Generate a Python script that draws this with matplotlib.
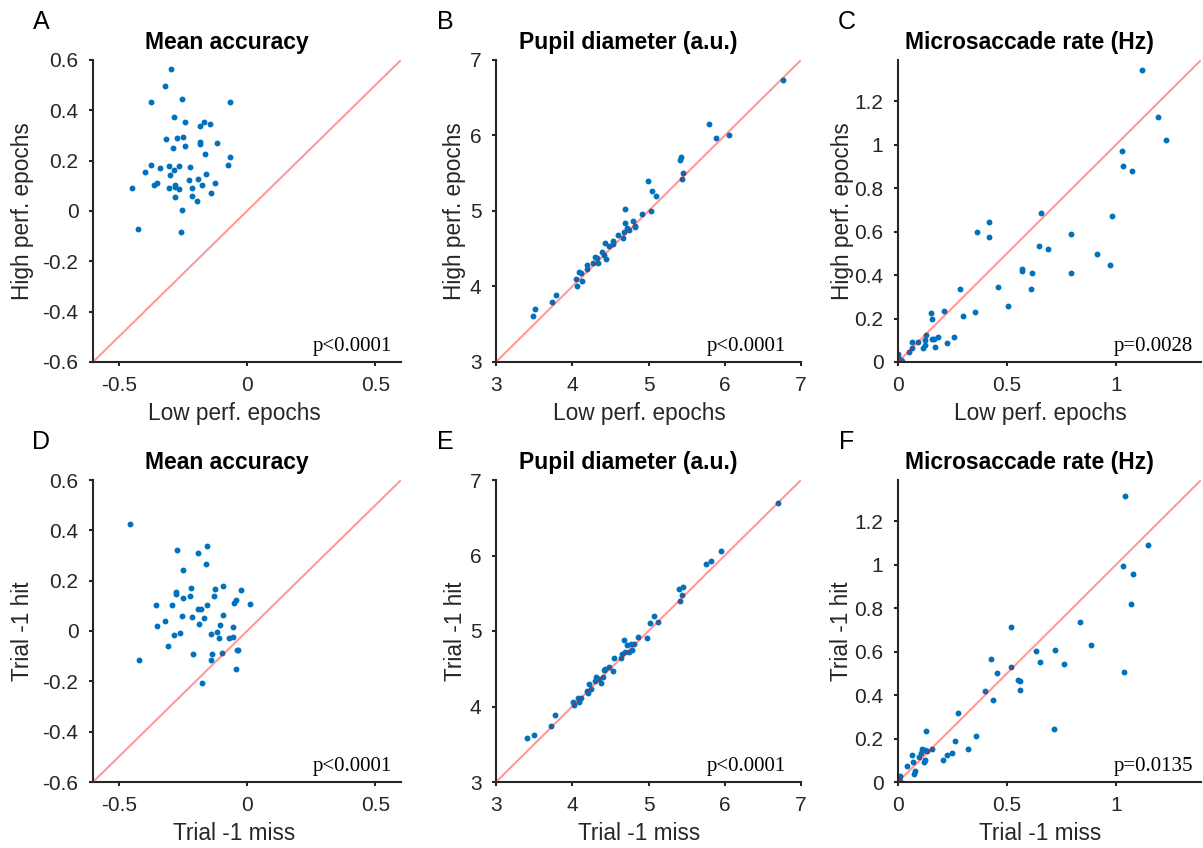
import matplotlib
matplotlib.use("Agg")
import matplotlib.pyplot as plt
import numpy as np

plt.rcParams['font.family'] = ['Liberation Sans', 'DejaVu Sans']
plt.rcParams['axes.unicode_minus'] = False

# ---------------- data ----------------
# Panel A: Mean accuracy (low vs high perf. epochs)
a_x = [-0.296, -0.320, -0.374, -0.253, -0.066, -0.285, -0.243, -0.168, -0.185, -0.146,
       -0.316, -0.273, -0.249, -0.288, -0.240, -0.184, -0.184, -0.117, -0.165, -0.068,
       -0.074, -0.374, -0.396, -0.340, -0.303, -0.284, -0.263, -0.221, -0.301, -0.159,
       -0.227, -0.191, -0.124, -0.449, -0.363, -0.352, -0.305, -0.282, -0.280, -0.264,
       -0.216, -0.176, -0.142, -0.282, -0.216, -0.194, -0.255, -0.423, -0.259]
a_y = [0.566, 0.498, 0.435, 0.445, 0.435, 0.373, 0.355, 0.355, 0.337, 0.344,
       0.288, 0.291, 0.293, 0.250, 0.260, 0.274, 0.266, 0.271, 0.226, 0.215,
       0.183, 0.182, 0.154, 0.171, 0.177, 0.161, 0.179, 0.175, 0.145, 0.146,
       0.124, 0.126, 0.112, 0.090, 0.105, 0.112, 0.090, 0.105, 0.097, 0.086,
       0.093, 0.102, 0.070, 0.056, 0.060, 0.040, 0.003, -0.070, -0.082]

# Panel B: Pupil diameter (low vs high perf. epochs)
b_x = [3.488, 3.509, 3.736, 3.792, 4.049, 4.067, 4.088, 4.123, 4.115, 4.193,
       4.193, 4.271, 4.293, 4.328, 4.337, 4.393, 4.411, 4.437, 4.424, 4.480,
       4.532, 4.532, 4.602, 4.667, 4.680, 4.694, 4.698, 4.715, 4.741, 4.802,
       4.828, 4.828, 4.911, 4.994, 5.037, 5.042, 5.094, 5.412, 5.429, 5.447,
       5.434, 5.795, 5.882, 6.052, 6.770]
b_y = [3.608, 3.696, 3.797, 3.881, 4.093, 4.009, 4.194, 4.079, 4.181, 4.291,
       4.233, 4.313, 4.388, 4.383, 4.313, 4.454, 4.419, 4.366, 4.581, 4.537,
       4.604, 4.559, 4.678, 4.639, 4.727, 4.837, 5.022, 4.771, 4.753, 4.863,
       4.806, 4.784, 4.956, 5.401, 5.000, 5.264, 5.198, 5.678, 5.718, 5.498,
       5.427, 6.154, 5.965, 6.013, 6.730]

# Panel C: Microsaccade rate (low vs high perf. epochs)
c_x = [1.120, 1.191, 1.229, 1.026, 1.030, 1.075, 0.980, 0.913, 0.971, 0.794,
       0.794, 0.655, 0.646, 0.689, 0.569, 0.569, 0.613, 0.611, 0.418, 0.418,
       0.361, 0.457, 0.503, 0.355, 0.285, 0.297, 0.212, 0.152, 0.157, 0.259,
       0.184, 0.155, 0.163, 0.172, 0.224, 0.128, 0.122, 0.123, 0.114, 0.090,
       0.063, 0.066, 0.050, 0.000, 0.000, 0.012, 0.020, 0.003]
c_y = [1.346, 1.127, 1.020, 0.971, 0.903, 0.878, 0.670, 0.498, 0.448, 0.590,
       0.410, 0.688, 0.534, 0.520, 0.429, 0.420, 0.409, 0.338, 0.645, 0.576,
       0.599, 0.343, 0.256, 0.230, 0.335, 0.211, 0.236, 0.225, 0.199, 0.116,
       0.113, 0.105, 0.105, 0.071, 0.086, 0.123, 0.100, 0.080, 0.063, 0.091,
       0.091, 0.066, 0.045, 0.035, 0.023, 0.008, 0.003, 0.000]

# Panel D: Mean accuracy (trial -1 miss vs hit)
d_x = [-0.457, -0.272, -0.190, -0.157, -0.160, -0.251, -0.219, -0.277, -0.275, -0.249,
       -0.224, -0.124, -0.094, -0.128, -0.025, -0.044, -0.050, 0.013, -0.355, -0.294,
       -0.190, -0.178, -0.156, -0.254, -0.214, -0.167, -0.095, -0.349, -0.318, -0.186,
       -0.104, -0.056, -0.286, -0.262, -0.142, -0.118, -0.109, -0.070, -0.055, -0.306,
       -0.211, -0.137, -0.096, -0.040, -0.037, -0.139, -0.421, -0.043, -0.175]
d_y = [0.424, 0.321, 0.311, 0.336, 0.268, 0.243, 0.171, 0.153, 0.146, 0.130,
       0.139, 0.167, 0.179, 0.139, 0.161, 0.125, 0.112, 0.109, 0.105, 0.105,
       0.086, 0.086, 0.102, 0.058, 0.057, 0.053, 0.065, 0.019, 0.041, 0.029,
       0.025, 0.015, -0.016, -0.008, -0.013, -0.005, -0.028, -0.028, -0.023, -0.059,
       -0.090, -0.092, -0.088, -0.076, -0.076, -0.116, -0.116, -0.151, -0.208]

# Panel E: Pupil diameter (trial -1 miss vs hit)
e_x = [6.692, 5.952, 5.817, 5.756, 5.394, 5.451, 5.438, 5.408, 5.068, 5.024,
       5.120, 4.977, 4.863, 4.676, 4.715, 4.776, 4.815, 4.785, 4.746, 4.694,
       4.650, 4.633, 4.550, 4.480, 4.537, 4.428, 4.411, 4.397, 4.315, 4.371,
       4.293, 4.223, 4.245, 4.210, 4.193, 4.119, 4.080, 4.084, 4.006, 4.019,
       3.771, 3.727, 3.501, 3.405, 4.350]
e_y = [6.696, 6.057, 5.925, 5.890, 5.551, 5.586, 5.480, 5.401, 5.194, 5.110,
       5.119, 4.903, 4.925, 4.881, 4.811, 4.833, 4.833, 4.749, 4.722, 4.722,
       4.696, 4.639, 4.643, 4.529, 4.476, 4.493, 4.489, 4.388, 4.388, 4.317,
       4.335, 4.295, 4.238, 4.176, 4.211, 4.106, 4.106, 4.053, 4.062, 4.026,
       3.881, 3.740, 3.621, 3.581, 4.370]

# Panel F: Microsaccade rate (trial -1 miss vs hit)
f_x = [1.041, 1.146, 1.034, 1.076, 1.070, 1.037, 0.834, 0.886, 0.718, 0.762,
       0.715, 0.631, 0.651, 0.520, 0.520, 0.549, 0.559, 0.559, 0.425, 0.454,
       0.401, 0.436, 0.276, 0.357, 0.322, 0.261, 0.250, 0.226, 0.206, 0.127,
       0.157, 0.131, 0.111, 0.104, 0.098, 0.122, 0.120, 0.123, 0.064, 0.067,
       0.040, 0.076, 0.075, 0.011, 0.006, 0.000, 0.011]
f_y = [1.315, 1.090, 0.995, 0.958, 0.819, 0.506, 0.736, 0.630, 0.608, 0.545,
       0.244, 0.602, 0.554, 0.713, 0.528, 0.471, 0.465, 0.423, 0.565, 0.502,
       0.417, 0.377, 0.316, 0.210, 0.150, 0.187, 0.134, 0.125, 0.103, 0.235,
       0.154, 0.142, 0.154, 0.134, 0.117, 0.103, 0.090, 0.147, 0.125, 0.093,
       0.074, 0.049, 0.035, 0.028, 0.017, 0.009, 0.005]

titles = ["Mean accuracy", "Pupil diameter (a.u.)", "Microsaccade rate (Hz)"]
letters = ["A", "B", "C", "D", "E", "F"]
xlabels = ["Low perf. epochs", "Trial -1 miss"]
ylabels = ["High perf. epochs", "Trial -1 hit"]
pvals = ["p<0.0001", "p<0.0001", "p=0.0028", "p<0.0001", "p<0.0001", "p=0.0135"]

acc_ticks_y = [-0.6, -0.4, -0.2, 0, 0.2, 0.4, 0.6]
acc_ticks_x = [-0.5, 0, 0.5]
acc_labels_y = ["-0.6", "-0.4", "-0.2", "0", "0.2", "0.4", "0.6"]
acc_labels_x = ["-0.5", "0", "0.5"]
pup_ticks = [3, 4, 5, 6, 7]
pup_labels = ["3", "4", "5", "6", "7"]
ms_ticks_x = [0, 0.5, 1]
ms_labels_x = ["0", "0.5", "1"]
ms_ticks_y = [0, 0.2, 0.4, 0.6, 0.8, 1, 1.2]
ms_labels_y = ["0", "0.2", "0.4", "0.6", "0.8", "1", "1.2"]

# ---------------- figure ----------------
W, H = 1203, 848
fig = plt.figure(figsize=(W / 100, H / 100), dpi=100)

TXT = '#262626'
DOT = '#0072BD'

cols = [(93, 401), (496, 801), (898, 1201)]
rows = [(60, 362), (480, 782)]
ylabel_x = [23, 455, 842]
xlabel_y = [414, 834]
letter_x = [41, 445, 847]
letter_y = [22, 442]
title_dx = [-20, -20, -20]
xlabel_dx = [-13, -9, -9]
p_right = [9, 15, 8]

panel_data = [(a_x, a_y), (b_x, b_y), (c_x, c_y), (d_x, d_y), (e_x, e_y), (f_x, f_y)]

for r in range(2):
    for c in range(3):
        i = r * 3 + c
        x0, x1 = cols[c]
        y0, y1 = rows[r]
        aw, ah = x1 - x0, y1 - y0
        ax = fig.add_axes([x0 / W, 1 - y1 / H, aw / W, ah / H])
        xs, ys = panel_data[i]
        if c == 0:
            lim = (-0.6, 0.6)
            ax.set_xticks(acc_ticks_x, acc_labels_x)
            ax.set_yticks(acc_ticks_y, acc_labels_y)
        elif c == 1:
            lim = (3, 7)
            ax.set_xticks(pup_ticks, pup_labels)
            ax.set_yticks(pup_ticks, pup_labels)
        else:
            lim = (0, 1.39)
            ax.set_xticks(ms_ticks_x, ms_labels_x)
            ax.set_yticks(ms_ticks_y, ms_labels_y)
        ax.scatter(xs, ys, s=18, color=DOT, linewidths=0, zorder=2)
        ax.plot(lim, lim, color='red', alpha=0.4, lw=1.5, zorder=3)
        ax.set_xlim(lim)
        ax.set_ylim(lim)
        for sp in ['top', 'right']:
            ax.spines[sp].set_visible(False)
        for sp in ['left', 'bottom']:
            ax.spines[sp].set_linewidth(1.5)
            ax.spines[sp].set_color(TXT)
        ax.tick_params(direction='out', length=3, width=1.5, colors=TXT,
                       labelsize=15, labelcolor=TXT)
        ax.tick_params(axis='x', pad=7)
        ax.tick_params(axis='y', pad=7.5)
        ax.set_xlabel(xlabels[r], fontsize=16.3, color=TXT)
        ax.xaxis.set_label_coords(0.5 + xlabel_dx[c] / aw, -(xlabel_y[r] - y1) / ah)
        ax.set_ylabel(ylabels[r], fontsize=16.3, color=TXT)
        ax.yaxis.set_label_coords((ylabel_x[c] - x0) / aw, 0.5)
        ax.xaxis.label.set_verticalalignment('center')
        ax.yaxis.label.set_verticalalignment('center')
        ax.text(0.5 + title_dx[c] / aw, 1 + 17 / ah, titles[c], transform=ax.transAxes,
                ha='center', va='center', fontsize=16.5, fontweight='bold', color='black')
        ax.text(1 - p_right[c] / aw, 15 / ah, pvals[i], transform=ax.transAxes,
                ha='right', va='center', fontsize=15, color='black',
                family=['Liberation Serif', 'DejaVu Serif'])
        fig.text(letter_x[c] / W, 1 - letter_y[r] / H, letters[i], ha='center', va='center',
                 fontsize=18, color='black')

fig.savefig("out.png", dpi=100)
